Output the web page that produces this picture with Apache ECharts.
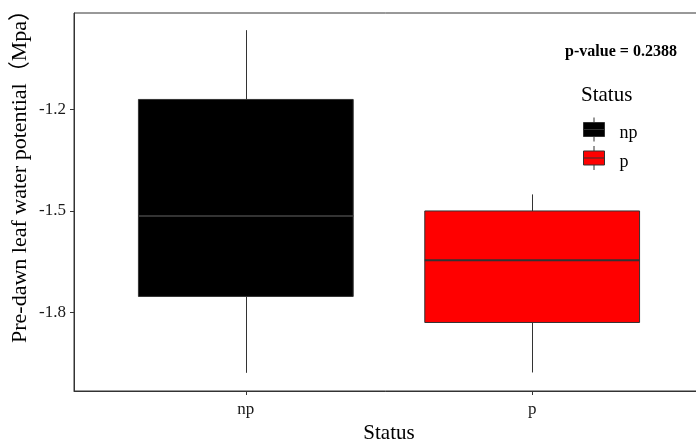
<!DOCTYPE html>
<html>
<head>
<meta charset="utf-8">
<script src="https://cdn.jsdelivr.net/npm/echarts@6/dist/echarts.min.js"></script>
<style>
  html, body { margin: 0; padding: 0; background: #fff; }
  #chart { width: 696px; height: 442px; }
</style>
</head>
<body>
<div id="chart"></div>
<script>
// Pre-dawn leaf water potential by status: five-number summaries per group
const categories = ['np', 'p'];
const lowerWhisker = [-1.979, -1.978];
const q1Values = [-1.753, -1.830];
const medianValues = [-1.515, -1.646];
const q3Values = [-1.170, -1.500];
const upperWhisker = [-0.965, -1.451];
const boxColors = ['#000000', '#ff0000'];
const yTicks = [-1.8, -1.5, -1.2];
const pValueText = 'p-value = 0.2388';

const SERIF = '"Liberation Serif", "Times New Roman", "Noto Sans CJK SC", serif';
const OUTLINE = '#333333';
const BOX_WIDTH = 0.75; // in category units

function renderBox(params, api) {
  const x = api.value(0);
  const half = api.size([BOX_WIDTH, 0])[0] / 2;
  const pMin = api.coord([x, api.value(1)]);
  const pQ1 = api.coord([x, api.value(2)]);
  const pMed = api.coord([x, api.value(3)]);
  const pQ3 = api.coord([x, api.value(4)]);
  const pMax = api.coord([x, api.value(5)]);
  const cx = Math.round(pMed[0]) + 0.5;
  const fill = api.visual('color');
  return {
    type: 'group',
    children: [
      { type: 'line', shape: { x1: cx, y1: pMax[1], x2: cx, y2: pQ3[1] },
        style: { stroke: OUTLINE, lineWidth: 1 } },
      { type: 'line', shape: { x1: cx, y1: pQ1[1], x2: cx, y2: pMin[1] },
        style: { stroke: OUTLINE, lineWidth: 1 } },
      { type: 'rect', shape: { x: pMed[0] - half, y: pQ3[1], width: half * 2, height: pQ1[1] - pQ3[1] },
        style: { fill: fill, stroke: OUTLINE, lineWidth: 1 } },
      { type: 'line', shape: { x1: pMed[0] - half, y1: pMed[1], x2: pMed[0] + half, y2: pMed[1] },
        style: { stroke: OUTLINE, lineWidth: 2 } }
    ]
  };
}

const series = categories.map(function (name, i) {
  return {
    name: name,
    type: 'custom',
    renderItem: renderBox,
    itemStyle: { color: boxColors[i] },
    encode: { x: 0, y: [1, 2, 3, 4, 5] },
    data: [[i + 1, lowerWhisker[i], q1Values[i], medianValues[i], q3Values[i], upperWhisker[i]]]
  };
});

const chart = echarts.init(document.getElementById('chart'), null, { renderer: 'canvas' });
chart.setOption({
  animation: false,
  backgroundColor: '#ffffff',
  textStyle: { fontFamily: SERIF },
  grid: {
    left: 74, top: 13, width: 630, height: 378,
    containLabel: false, outerBoundsMode: 'none',
    show: true, borderColor: OUTLINE, borderWidth: 1, backgroundColor: 'transparent'
  },
  title: [
    { text: pValueText, left: 621, top: 44, textAlign: 'center', padding: 0,
      textStyle: { fontFamily: SERIF, fontSize: 16, fontWeight: 'bold', color: '#000' } },
    { text: 'Status', left: 581, top: 85, padding: 0,
      textStyle: { fontFamily: SERIF, fontSize: 21, fontWeight: 'normal', color: '#000' } }
  ],
  legend: {
    orient: 'vertical',
    left: 583, top: 117, padding: 0,
    itemWidth: 21, itemHeight: 24, itemGap: 3,
    icon: 'path://M0,5 L21,5 L21,19 L0,19 Z M0,12 L21,12 M10.5,0 L10.5,5 M10.5,19 L10.5,24',
    itemStyle: { borderColor: OUTLINE, borderWidth: 1 },
    formatter: '{lab|{name}}',
    textStyle: {
      fontFamily: SERIF, fontSize: 18, color: '#000',
      rich: { lab: { fontFamily: SERIF, fontSize: 18, color: '#000', padding: [8, 0, 0, 10] } }
    },
    data: categories
  },
  xAxis: {
    type: 'value', min: 0.4, max: 2.6,
    name: 'Status', nameLocation: 'middle', nameGap: 32,
    nameTextStyle: { fontFamily: SERIF, fontSize: 21, color: '#000' },
    axisLine: { show: true, lineStyle: { color: OUTLINE, width: 1 } },
    axisTick: { show: true, customValues: [1, 2], length: 4, lineStyle: { color: OUTLINE } },
    axisLabel: {
      customValues: [1, 2], margin: 10,
      fontFamily: SERIF, fontSize: 17, color: '#1a1a1a',
      formatter: function (v) { return categories[Math.round(v) - 1]; }
    },
    splitLine: { show: false }
  },
  yAxis: {
    type: 'value', min: -2.0328, max: -0.9142,
    axisLine: { show: true, lineStyle: { color: OUTLINE, width: 1 } },
    axisTick: { show: true, customValues: yTicks, length: 4, lineStyle: { color: OUTLINE } },
    axisLabel: {
      customValues: yTicks, margin: 8,
      fontFamily: SERIF, fontSize: 17, color: '#1a1a1a',
      formatter: function (v) { return v.toFixed(1); }
    },
    splitLine: { show: false }
  },
  graphic: [
    { type: 'text', x: 20, y: 171, rotation: Math.PI / 2,
      style: { text: 'Pre-dawn leaf water potential（Mpa）', font: '22px ' + SERIF,
               fill: '#000', textAlign: 'center', textVerticalAlign: 'middle' } }
  ],
  series: series
});
</script>
</body>
</html>
